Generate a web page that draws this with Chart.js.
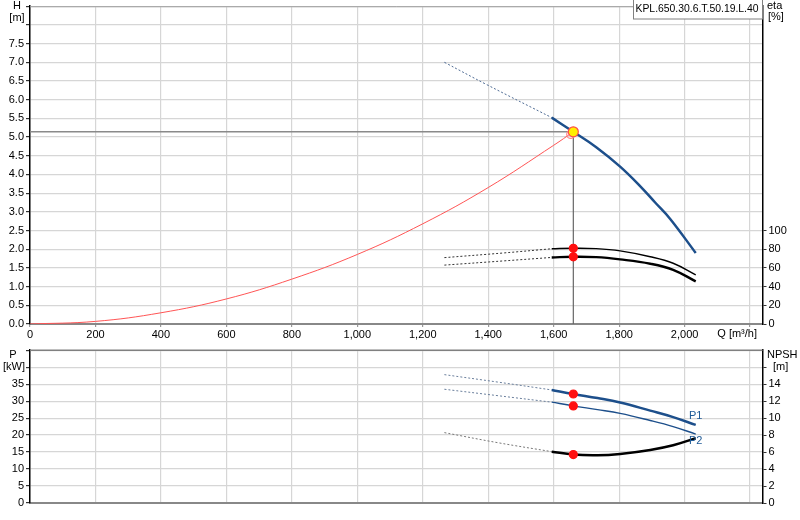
<!DOCTYPE html>
<html>
<head>
<meta charset="utf-8">
<script src="https://cdn.jsdelivr.net/npm/chart.js@4/dist/chart.umd.min.js"></script>
<style>
body { margin: 0; background: #fff; }
#topChart { position: absolute; left: 0; top: 0; }
#botChart { position: absolute; left: 0; top: 345px; }
</style>
</head>
<body>
<canvas id="topChart" width="800" height="345"></canvas>
<canvas id="botChart" width="800" height="175"></canvas>
<script>
// flow ticks [m3/h]
var qTicks = [0, 200, 400, 600, 800, 1000, 1200, 1400, 1600, 1800, 2000, 2200];

// head curve H [m]
var qHeadDash = [1266, 1396, 1594];
var headDash = [7.0, 6.40, 5.52];
var qHead = [1594, 1660, 1730, 1803, 1864, 1910, 1956, 2034];
var head = [5.52, 5.14, 4.73, 4.21, 3.69, 3.25, 2.81, 1.90];

// system curve
var qSys = [0, 200, 400, 600, 800, 1000, 1200, 1400, 1600, 1660];
var hSys = [0, 0.07, 0.30, 0.67, 1.20, 1.86, 2.68, 3.65, 4.78, 5.14];

// efficiency eta [%]
var qEtaDash = [1266, 1447, 1594];
var eta1Dash = [71, 76, 80.5];
var eta2Dash = [63, 67.5, 71.2];
var qEta = [1594, 1660, 1730, 1803, 1895, 1965, 2034];
var eta1 = [80.5, 81, 80.6, 78.2, 72, 65, 52.6];
var eta2 = [71.2, 71.9, 71.5, 69.1, 64.5, 58, 45.6];

// power P1 / P2 [kW] and NPSH [m]
var qLowDash = [1266, 1430, 1594];
var p1Dash = [37.8, 35.6, 33.3];
var p2Dash = [33.5, 31.6, 29.7];
var npshDash = [8.29, 7.1, 6.05];
var qLow = [1594, 1660, 1734, 1803, 1895, 1965, 2034];
var p1 = [33.3, 32.1, 30.9, 29.6, 27.2, 25.3, 23.0];
var p2 = [29.7, 28.6, 27.5, 26.4, 24.3, 22.5, 20.3];
var npsh = [6.05, 5.70, 5.62, 5.78, 6.25, 6.80, 7.63];

// duty point
var dutyQ = 1660;
var dutyH = 5.14;
var dutyEta1 = 81;
var dutyEta2 = 71.9;
var dutyP1 = 32.1;
var dutyP2 = 28.6;
var dutyNpsh = 5.70;

var hTicks = [0, 0.5, 1, 1.5, 2, 2.5, 3, 3.5, 4, 4.5, 5, 5.5, 6, 6.5, 7, 7.5, 8, 8.5];
var etaTicks = [0, 20, 40, 60, 80, 100];
var pTicks = [0, 5, 10, 15, 20, 25, 30, 35, 40, 45];
var npshTicks = [0, 2, 4, 6, 8, 10, 12, 14, 16];

Chart.defaults.font.family = "'Liberation Sans', Arial, sans-serif";
Chart.defaults.font.size = 11;
Chart.defaults.color = '#000';

function pts(xs, ys) {
    return xs.map(function(x, i) { return {x: x, y: ys[i]}; });
}
function fixTicks(list) {
    return function(s) { s.ticks = list.map(function(v) { return {value: v}; }); };
}

var blue = '#1d4f8b';
var gridCol = '#d6d6d6';

function line(data, color, width, yAxis, dash) {
    return {
        data: data, borderColor: color, borderWidth: width, yAxisID: yAxis,
        pointRadius: 0, fill: false, tension: 0.4,
        borderDash: dash || []
    };
}
function dot(data, yAxis, bg, border, r) {
    return {
        data: data, yAxisID: yAxis, showLine: false,
        pointRadius: r || 4, pointBackgroundColor: bg,
        pointBorderColor: border || bg, pointBorderWidth: 1.2
    };
}

function label(ctx, text, x, y, align) {
    ctx.textAlign = align || 'center';
    ctx.textBaseline = 'middle';
    ctx.fillText(text, x, y);
}

var topExtras = {
    id: 'topExtras',
    afterDraw: function(chart) {
        var ctx = chart.ctx;
        var a = chart.chartArea;
        ctx.save();
        ctx.strokeStyle = '#a0a0a0';
        ctx.lineWidth = 1;
        ctx.beginPath();
        ctx.moveTo(a.left, a.top + 0.5);
        ctx.lineTo(a.right, a.top + 0.5);
        ctx.stroke();
        ctx.font = "11px 'Liberation Sans', Arial, sans-serif";
        ctx.fillStyle = '#000';
        label(ctx, 'H', 17, 6);
        label(ctx, '[m]', 17, 18);
        label(ctx, 'eta', 767, 6, 'left');
        label(ctx, '[%]', 768, 17, 'left');
        label(ctx, 'Q [m³/h]', 757, 334, 'right');
        // type box
        ctx.fillStyle = '#fff';
        ctx.fillRect(633, 0, 129, 19);
        ctx.strokeStyle = '#808080';
        ctx.strokeRect(633.5, -0.5, 129, 19.5);
        ctx.fillStyle = '#000';
        ctx.font = "10.4px 'Liberation Sans', Arial, sans-serif";
        label(ctx, 'KPL.650.30.6.T.50.19.L.40', 635.5, 9.5, 'left');
        ctx.restore();
    }
};

var botExtras = {
    id: 'botExtras',
    afterDraw: function(chart) {
        var ctx = chart.ctx;
        var a = chart.chartArea;
        ctx.save();
        ctx.strokeStyle = '#808080';
        ctx.lineWidth = 1.5;
        ctx.beginPath();
        ctx.moveTo(a.left, a.top);
        ctx.lineTo(a.right, a.top);
        ctx.stroke();
        ctx.font = "11px 'Liberation Sans', Arial, sans-serif";
        ctx.fillStyle = '#000';
        label(ctx, 'P', 13, 10);
        label(ctx, '[kW]', 14, 22);
        label(ctx, 'NPSH', 767, 10, 'left');
        label(ctx, '[m]', 773, 22, 'left');
        ctx.fillStyle = '#1f5a96';
        label(ctx, 'P1', 689, 71, 'left');
        label(ctx, 'P2', 689, 96, 'left');
        ctx.restore();
    }
};

function xScale(showLabels, h) {
    return {
        type: 'linear', min: 0, max: 2238,
        afterBuildTicks: fixTicks(qTicks),
        afterFit: function(s) { s.height = h; s.paddingLeft = 0; s.paddingRight = 0; },
        ticks: {
            display: showLabels, maxRotation: 0, autoSkip: false, padding: 1,
            callback: function(v) { return v <= 2000 ? v.toLocaleString('en-US') : ''; }
        },
        grid: { color: gridCol, lineWidth: 1.2, tickColor: '#999', tickLength: 3, drawTicks: showLabels },
        border: { color: '#888', width: 2 }
    };
}
function leftScale(min, max, list, fmt, width) {
    return {
        position: 'left', min: min, max: max,
        afterBuildTicks: fixTicks(list),
        afterFit: function(s) { s.width = width; s.paddingTop = 0; s.paddingBottom = 0; },
        ticks: { padding: 2, autoSkip: false, callback: fmt },
        grid: { color: gridCol, lineWidth: 1.2, tickColor: '#333', tickLength: 4 },
        border: { color: '#000', width: 1.5 }
    };
}
function rightScale(min, max, list, fmt, width) {
    return {
        position: 'right', min: min, max: max,
        afterBuildTicks: fixTicks(list),
        afterFit: function(s) { s.width = width; s.paddingTop = 0; s.paddingBottom = 0; },
        ticks: { padding: 2, autoSkip: false, callback: fmt },
        grid: { drawOnChartArea: false, tickColor: '#333', tickLength: 4 },
        border: { color: '#000', width: 1.5 }
    };
}

new Chart(document.getElementById('topChart'), {
    type: 'line',
    data: {
        datasets: [
            dot([{x: dutyQ, y: dutyH}], 'y', '#ffee00', '#ff4b4b', 5),
            dot([{x: dutyQ, y: dutyEta1}, {x: dutyQ, y: dutyEta2}], 'yEta', '#ff1010'),
            dot([{x: qSys[qSys.length - 1] - 8, y: hSys[hSys.length - 1] - 0.07}], 'y', 'rgba(0,0,0,0)', '#ff8a8a', 4),
            line(pts(qHead, head), blue, 2.5, 'y'),
            line(pts(qHeadDash, headDash), '#4d6a93', 1, 'y', [2, 2]),
            line(pts(qSys, hSys), '#ff5555', 1, 'y'),
            line(pts(qEta, eta1), '#000', 1.4, 'yEta'),
            line(pts(qEta, eta2), '#000', 2.4, 'yEta'),
            line(pts(qEtaDash, eta1Dash), '#333', 1, 'yEta', [2, 2]),
            line(pts(qEtaDash, eta2Dash), '#333', 1, 'yEta', [2, 2]),
            line([{x: 0, y: dutyH}, {x: dutyQ, y: dutyH}], '#8a8a8a', 1.5, 'y'),
            line([{x: dutyQ, y: dutyH}, {x: dutyQ, y: 0}], '#666', 1.2, 'y')
        ]
    },
    options: {
        responsive: false,
        animation: false,
        devicePixelRatio: 1,
        layout: { padding: 0 },
        plugins: { legend: { display: false }, tooltip: { enabled: false } },
        scales: {
            x: xScale(true, 21),
            y: leftScale(0, 8.5, hTicks, function(v) { return v <= 7.5 ? v.toFixed(1) : ''; }, 30),
            yEta: rightScale(0, 340, etaTicks, function(v) { return String(v); }, 37.5)
        }
    },
    plugins: [topExtras]
});

new Chart(document.getElementById('botChart'), {
    type: 'line',
    data: {
        datasets: [
            dot([{x: dutyQ, y: dutyP1}, {x: dutyQ, y: dutyP2}], 'y', '#ff1010'),
            dot([{x: dutyQ, y: dutyNpsh}], 'yN', '#ff1010'),
            line(pts(qLow, p1), blue, 2.5, 'y'),
            line(pts(qLow, p2), blue, 1.4, 'y'),
            line(pts(qLow, npsh), '#000', 2.5, 'yN'),
            line(pts(qLowDash, p1Dash), '#6a7f9c', 1, 'y', [2, 2]),
            line(pts(qLowDash, p2Dash), '#6a7f9c', 1, 'y', [2, 2]),
            line(pts(qLowDash, npshDash), '#777', 1, 'yN', [2, 2])
        ]
    },
    options: {
        responsive: false,
        animation: false,
        devicePixelRatio: 1,
        layout: { padding: { top: 5 } },
        plugins: { legend: { display: false }, tooltip: { enabled: false } },
        scales: {
            x: xScale(false, 17),
            y: leftScale(0, 45, pTicks, function(v) { return v <= 35 ? String(v) : ''; }, 30),
            yN: rightScale(0, 18, npshTicks, function(v) { return v <= 14 ? String(v) : ''; }, 37.5)
        }
    },
    plugins: [botExtras]
});
</script>
</body>
</html>
